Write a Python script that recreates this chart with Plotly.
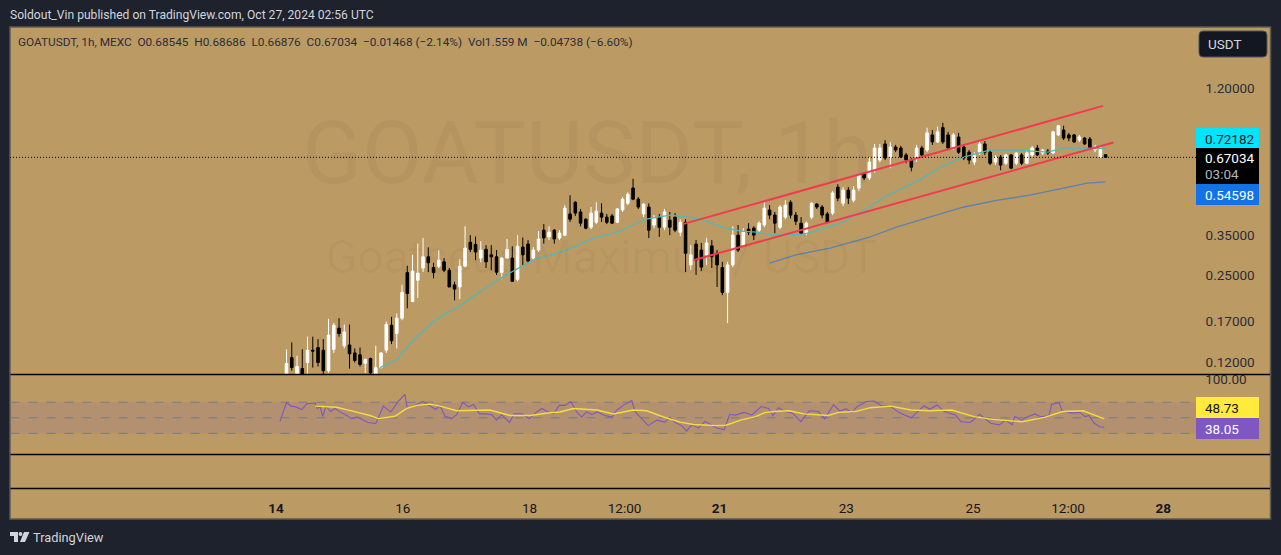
import pandas as pd
import plotly.graph_objects as go

W, H = 1281, 555
BASE = pd.Timestamp("2024-10-14")

opens = [
 .107,.125,.108,.114,.120,.133,.136,.133,.112,.134,
 .160,.138,.139,.130,.128,.119,.124,.108,.115,.133,
 .164,.153,.174,.255,.200,.239,.265,.291,.266,.269,
 .279,.260,.230,.226,.269,.329,.323,.288,.310,.296,
 .291,.255,.288,.288,.241,.316,.324,.288,.308,.364,
 .344,.364,.341,.349,.417,.460,.424,.399,.373,.389,
 .420,.406,.410,.389,.431,.456,.518,.472,.417,.442,
 .380,.406,.373,.396,.406,.358,.389,.272,.324,.308,
 .296,.319,.300,.266,.216,.272,.349,.321,.367,.370,
 .364,.380,.431,.413,.373,.406,.460,.413,.386,.355,
 .406,.453,.442,.417,.420,.522,.456,.509,.468,.518,
 .584,.564,.602,.655,.750,.672,.731,.725,.684,.655,
 .667,.725,.713,.809,.763,.860,.809,.731,.795,.731,
 .700,.644,.700,.750,.700,.644,.672,.638,.684,.638,
 .684,.638,.684,.725,.695,.707,.695,.809,.843,.809,
 .809,.775,.788,.782,.713,.672,.68545]
highs = [
 .134,.142,.127,.134,.149,.149,.146,.146,.173,.167,
 .174,.165,.165,.135,.136,.124,.125,.138,.131,.169,
 .176,.181,.230,.270,.296,.325,.341,.315,.277,.308,
 .288,.265,.236,.286,.376,.349,.345,.332,.321,.321,
 .308,.291,.338,.318,.349,.342,.335,.316,.361,.383,
 .376,.367,.364,.449,.488,.464,.435,.402,.442,.460,
 .456,.417,.417,.438,.480,.500,.560,.480,.456,.456,
 .413,.417,.435,.424,.420,.399,.399,.321,.335,.327,
 .341,.335,.308,.279,.279,.376,.380,.370,.386,.376,
 .392,.464,.449,.424,.449,.468,.468,.424,.406,.392,
 .460,.456,.449,.424,.505,.535,.522,.522,.527,.584,
 .590,.672,.750,.750,.775,.763,.744,.738,.695,.667,
 .744,.738,.860,.843,.867,.895,.830,.823,.823,.750,
 .713,.700,.768,.768,.713,.684,.684,.690,.690,.700,
 .695,.713,.738,.744,.719,.719,.837,.881,.874,.823,
 .816,.809,.795,.795,.744,.738,.68686]
lows = [
 .105,.112,.106,.106,.109,.115,.116,.109,.110,.130,
 .149,.135,.114,.120,.116,.110,.107,.107,.114,.130,
 .140,.135,.171,.189,.199,.206,.256,.256,.243,.265,
 .256,.226,.202,.204,.267,.303,.283,.278,.265,.260,
 .250,.243,.288,.237,.237,.272,.277,.283,.303,.325,
 .335,.325,.335,.346,.390,.410,.376,.367,.367,.383,
 .390,.383,.383,.386,.424,.449,.468,.435,.406,.341,
 .370,.344,.364,.349,.358,.346,.256,.260,.250,.258,
 .272,.265,.226,.211,.167,.267,.303,.316,.349,.335,
 .355,.373,.399,.355,.367,.399,.402,.380,.352,.349,
 .399,.435,.402,.386,.413,.464,.445,.453,.460,.505,
 .554,.554,.590,.644,.655,.612,.700,.667,.638,.596,
 .644,.667,.700,.744,.756,.750,.713,.713,.690,.655,
 .633,.628,.684,.684,.628,.628,.602,.628,.607,.628,
 .628,.633,.672,.678,.684,.684,.690,.802,.775,.768,
 .756,.763,.744,.719,.700,.667,.66876]
closes = [
 .119,.115,.116,.108,.133,.132,.120,.112,.151,.164,
 .153,.155,.129,.122,.118,.123,.110,.115,.130,.165,
 .144,.174,.216,.214,.258,.254,.291,.277,.255,.283,
 .260,.226,.222,.269,.313,.310,.303,.308,.279,.291,
 .256,.288,.310,.237,.318,.296,.281,.308,.338,.341,
 .358,.338,.355,.438,.399,.420,.386,.370,.420,.427,
 .406,.389,.386,.435,.472,.492,.472,.442,.453,.364,
 .402,.373,.424,.373,.364,.389,.300,.296,.283,.267,
 .327,.291,.272,.216,.272,.349,.308,.358,.358,.349,
 .386,.438,.413,.386,.442,.449,.413,.392,.355,.386,
 .456,.442,.413,.389,.497,.476,.509,.476,.509,.578,
 .564,.644,.725,.725,.667,.731,.713,.672,.655,.617,
 .725,.684,.823,.763,.830,.763,.725,.809,.700,.667,
 .655,.684,.750,.700,.638,.672,.628,.684,.612,.695,
 .638,.695,.725,.684,.713,.695,.830,.874,.788,.788,
 .763,.795,.750,.725,.731,.725,.67034]

ma_fast_hours = [39.6,46,52,59,64,69,74,80,86,93,99,107,115,121,130,136,141,150,157,163,170,177,183,189,201,208,216,224,233,245,253,261,272,281,294,300,316]
ma_fast_vals = [.115,.123,.144,.166,.180,.190,.205,.225,.245,.266,.287,.299,.321,.341,.358,.380,.399,.413,.406,.396,.373,.361,.358,.349,.352,.367,.389,.431,.488,.554,.617,.667,.713,.713,.700,.725,.72182]
ma_slow_hours = [188,198,211,226,236.6,249,262,275,287,300,309,316]
ma_slow_vals = [.276,.296,.313,.343,.374,.406,.442,.468,.488,.518,.540,.54598]

channel_upper_hours, channel_upper_vals = [155, 315], [.383, 1.032]
channel_lower_hours, channel_lower_vals = [159, 319], [.283, .759]

rsi_hours = [1.5,4,5.6,7.6,9.8,11.7,14.9,15.7,16.8,17.8,19,20.8,22.5,24.6,27,28.8,31,33.3,35.2,38,40.9,43.7,46.6,49.1,50,51.7,53.6,55.9,58.7,60.8,62.5,64.4,66.9,68.8,71.1,73.3,75.2,77.5,79.6,82.2,84,86,88.9,90.8,93.6,96.5,99.3,101.2,103.7,105.7,107.9,110,112.3,114.5,116.4,118.3,120.3,122.2,125.3,127.9,129.8,132.3,135.5,136.8,139.3,141.8,145,148.2,150,152,154.5,156.4,158.3,160.9,163.4,166,167.9,
 170.7,172.8,174.9,178.4,181.2,184.8,187.6,189.3,191.4,193.9,196.8,199.9,203.1,206.6,209,212.3,214.8,217.2,219.3,221.4,225,227.8,230.6,234.1,237.7,241.9,246.8,249,251.8,254.6,258.8,260.9,264.5,268,272.2,275.5,277.9,280.4,281.4,284.2,286.3,289.1,291.3,294.4,295.5,298.3,299.4,303.2,306.1,308.2,309.6,311.7,313.8,315.5]
rsi_vals = [45.5,69.6,65,64,60.5,68,69,62,64,52,65,58,62,57,53,49,51,47,44,42.5,65,57.5,71,80,62,64,67,71,65,61,65,52,49,54,69.5,64,67,55,55,54,47,54,44,55,55,49,57.5,62,57.5,55,66,66,71,57.5,51,57.5,54,57.5,53,51,60,66,72.5,57.5,49,40,47,44.5,51,44,40,33,41,37,45.5,41,37,
 34.5,54.5,53.5,57,53.5,64.5,62,53,63,58,56,45,59,58,48.5,66.5,59,61.5,56.5,64.5,71,71.5,65.5,64.5,56,50,65.5,61,66.5,58,53.5,45,44,54.5,43,41,47,41,51.5,47,51.5,55,51.5,52.5,67.5,69.5,59,56,57,51.5,53,43,38.5,38.05]
rsi_ma_hours = [14.9,19.3,23.1,26.9,32,35.8,39,45.3,49.8,53.6,58.7,62.5,68.8,75.2,81.5,89.1,96.8,104.4,108.2,113.3,122.2,128.5,136.1,141.2,147.6,153.9,159,167.9,171.4,177,182.7,186.2,189.7,195.4,201,210.2,214.4,220.7,226.4,234.1,241.9,249,257.4,265.9,272.9,284.2,292.7,299.7,307.5,315.5]
rsi_ma_vals = [65,64,63.5,60.5,56.5,53,49,52,62,66,67.5,65,59,59.5,60,53,53,56.5,57.5,62,60,55,60,59,51,44.5,41.5,40,40.5,47,51.5,56.7,58,59,55,53,57,58,63,65,60,59,60,51.5,48,45,50.5,58,59,48.73]

price_ticks = [1.2, .35, .25, .17, .12]
rsi_ticks = [100]
rsi_levels = [70, 50, 30]
last_price = 0.67034
date_ticks = ["2024-10-14", "2024-10-16", "2024-10-18", "2024-10-19 12:00", "2024-10-21", "2024-10-23", "2024-10-25", "2024-10-26 12:00", "2024-10-28"]
date_labels = ["<b>14</b>", "16", "18", "12:00", "<b>21</b>", "23", "25", "12:00", "<b>28</b>"]

TAN = "#BC9A64"
DARK = "#1E222D"
FONT = "Roboto"
HOUR_SCALE = 2.625 / 2.64


def ts(hours):
    return BASE + pd.to_timedelta(pd.Series(hours) * HOUR_SCALE, unit="h")


def px(x):
    return x / W


def py(y):
    return 1 - y / H


times = ts([4 + 2 * i for i in range(len(opens))])
x_left, x_right = ts([-101.33, 379.0])

fig = go.Figure()
fig.add_trace(go.Candlestick(
    x=times, open=opens, high=highs, low=lows, close=closes,
    increasing=dict(line=dict(color="#FFFFFF", width=1), fillcolor="#FFFFFF"),
    decreasing=dict(line=dict(color="#000000", width=1), fillcolor="#000000"),
    whiskerwidth=0, hoverinfo="skip", showlegend=False, xaxis="x", yaxis="y"))


def line(hours, vals, color, width, yaxis="y", dash="solid"):
    fig.add_trace(go.Scatter(x=ts(hours), y=vals, mode="lines",
                             line=dict(color=color, width=width, dash=dash),
                             hoverinfo="skip", showlegend=False, xaxis="x", yaxis=yaxis))


line(ma_fast_hours, ma_fast_vals, "#52B8B8", 1.3)
line(ma_slow_hours, ma_slow_vals, "#5B82B0", 1.3)
line(channel_upper_hours, channel_upper_vals, "#F23B50", 2)
line(channel_lower_hours, channel_lower_vals, "#F23B50", 2)
fig.add_trace(go.Scatter(x=[x_left, ts([351.5])[0]], y=[last_price, last_price], mode="lines",
                         line=dict(color="#000000", width=1, dash="1px,2px"),
                         hoverinfo="skip", showlegend=False, xaxis="x", yaxis="y"))
line(rsi_hours, rsi_vals, "#7E57C2", 1.1, yaxis="y2")
line(rsi_ma_hours, rsi_ma_vals, "#F5DC3C", 1.4, yaxis="y2")

shapes = []
shapes.append(dict(type="rect", xref="paper", yref="paper", x0=px(10), x1=px(1270.5), y0=py(519), y1=py(27),
                   fillcolor=TAN, line=dict(color="#5F5B50", width=1.5), layer="below"))
shapes.append(dict(type="rect", xref="paper", yref="y2", x0=px(10.5), x1=px(1196), y0=30, y1=70,
                   fillcolor="rgba(126,87,194,0.13)", line=dict(width=0), layer="below"))
for lv in rsi_levels:
    shapes.append(dict(type="line", xref="paper", yref="y2", x0=px(10.5), x1=px(1196), y0=lv, y1=lv,
                       line=dict(color="#787B86", width=1, dash="dash"), layer="below"))
for yy in (374.5, 454.5, 488.5):
    shapes.append(dict(type="line", xref="paper", yref="paper", x0=px(10.5), x1=px(1270), y0=py(yy), y1=py(yy),
                       line=dict(color="#000000", width=1.3)))


def box(x0, y0, x1, y1, color):
    shapes.append(dict(type="rect", xref="paper", yref="paper", x0=px(x0), x1=px(x1), y0=py(y1), y1=py(y0),
                       fillcolor=color, line=dict(width=0)))


box(1196, 128, 1259, 148, "#00E5FF")
box(1196, 148, 1259, 184, "#000000")
box(1196, 184, 1259, 205, "#1173E6")
box(1196, 397, 1259, 418, "#FFEB3B")
box(1196, 418, 1259, 439, "#7E57C2")


def poly(points, fill):
    d = "M" + " L".join(f"{px(a):.5f},{py(b):.5f}" for a, b in points) + " Z"
    shapes.append(dict(type="path", xref="paper", yref="paper", path=d, fillcolor=fill, line=dict(width=0)))


poly([(10, 532), (18, 532), (18, 542), (14, 542), (14, 536), (10, 536)], "#D1D4DC")
poly([(24, 532), (29.5, 532), (25, 542), (20, 542)], "#D1D4DC")
shapes.append(dict(type="circle", xref="paper", yref="paper", x0=px(18.6), x1=px(22.4), y0=py(536), y1=py(532),
                   fillcolor="#D1D4DC", line=dict(width=0)))
r = 4
bx0, bx1, by0, by1 = 1199, 1267, 31, 57
btn = (f"M{px(bx0+r):.5f},{py(by0):.5f} L{px(bx1-r):.5f},{py(by0):.5f} Q{px(bx1):.5f},{py(by0):.5f} {px(bx1):.5f},{py(by0+r):.5f} "
       f"L{px(bx1):.5f},{py(by1-r):.5f} Q{px(bx1):.5f},{py(by1):.5f} {px(bx1-r):.5f},{py(by1):.5f} "
       f"L{px(bx0+r):.5f},{py(by1):.5f} Q{px(bx0):.5f},{py(by1):.5f} {px(bx0):.5f},{py(by1-r):.5f} "
       f"L{px(bx0):.5f},{py(by0+r):.5f} Q{px(bx0):.5f},{py(by0):.5f} {px(bx0+r):.5f},{py(by0):.5f} Z")
shapes.append(dict(type="path", xref="paper", yref="paper", path=btn, fillcolor="#131722",
                   line=dict(color="#50535E", width=1)))

ann = []


def text(x, y, s, size, color, anchor="left", family=FONT):
    ann.append(dict(xref="paper", yref="paper", x=px(x), y=py(y), text=s, showarrow=False,
                    xanchor=anchor, yanchor="middle", font=dict(family=family, size=size, color=color)))


text(8, 15, "Soldout_Vin published on TradingView.com, Oct 27, 2024 02:56 UTC", 12.1, "#D1D4DC")
text(16, 41.5, "GOATUSDT, 1h, MEXC&nbsp;&nbsp;O0.68545&nbsp;&nbsp;H0.68686&nbsp;&nbsp;L0.66876&nbsp;&nbsp;C0.67034&nbsp;&nbsp;−0.01468 (−2.14%)&nbsp;&nbsp;Vol1.559 M&nbsp;&nbsp;−0.04738 (−6.60%)", 11.8, "#2A2E39")
text(587, 152, "GOATUSDT, 1h", 88, "rgba(0,0,0,0.035)", "center")
text(601, 257, "Goatseus Maximus / USDT", 46, "rgba(0,0,0,0.035)", "center")
text(1206, 44, "USDT", 13.5, "#D1D4DC")
text(1203, 138.5, "0.72182", 13.5, "#131722")
text(1203, 158, "0.67034", 13.5, "#FFFFFF")
text(1203, 174, "03:04", 13.5, "#B2B5BE")
text(1203, 195, "0.54598", 13.5, "#FFFFFF")
text(1203, 408, "48.73", 13.5, "#131722")
text(1203, 428.5, "38.05", 13.5, "#FFFFFF")
text(31, 537, "TradingView", 12.8, "#D1D4DC")

fig.update_layout(
    width=W, height=H, margin=dict(l=0, r=0, t=0, b=0, autoexpand=False),
    paper_bgcolor=DARK, plot_bgcolor="rgba(0,0,0,0)", shapes=shapes, annotations=ann,
    showlegend=False, hovermode=False, boxgap=0.3,
    xaxis=dict(type="date", domain=[px(10), px(1271)], range=[x_left, x_right],
               anchor="free", position=py(489), rangeslider=dict(visible=False),
               showgrid=False, zeroline=False, showline=False,
               tickvals=date_ticks, ticktext=date_labels, ticks="outside", ticklen=7,
               tickcolor="rgba(0,0,0,0)", tickfont=dict(family=FONT, size=13.5, color="#131722")),
    yaxis=dict(type="log", domain=[py(374.5), py(27)], range=[-0.9646, 0.301], side="right",
               anchor="x", showgrid=False, zeroline=False, showline=False,
               tickvals=price_ticks, tickformat=".5f", ticks="inside", ticklen=16,
               ticklabelposition="inside", tickcolor="rgba(0,0,0,0)",
               tickfont=dict(family=FONT, size=13.5, color="#2A2E39")),
    yaxis2=dict(type="linear", domain=[py(454.5), py(360)], range=[2.9, 124.2], side="right",
                anchor="x", showgrid=False, zeroline=False, showline=False,
                tickvals=rsi_ticks, tickformat=".2f", ticks="inside", ticklen=24,
                ticklabelposition="inside", tickcolor="rgba(0,0,0,0)",
                tickfont=dict(family=FONT, size=13.5, color="#2A2E39")),
)

fig.write_html("out.html", config=dict(displayModeBar=False),
               post_script="document.body.style.margin='0';document.body.style.overflow='hidden';")
